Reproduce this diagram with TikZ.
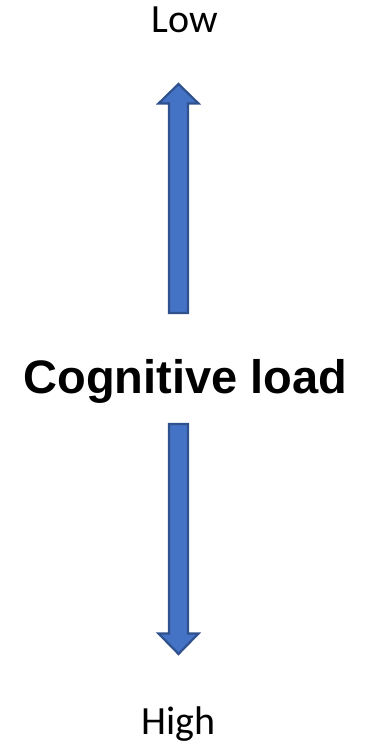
\documentclass[tikz,border=0pt]{standalone}
\usepackage{fontspec}
\setmainfont{Liberation Sans}
\newfontfamily\calib{Carlito}
\definecolor{arrowfill}{HTML}{4472C4}
\definecolor{arrowline}{HTML}{2F528F}
\begin{document}
\begin{tikzpicture}[x=1pt,y=1pt,
  blockarrow/.style={fill=arrowfill,draw=arrowline,line width=2.2pt,line join=miter},
  endlabel/.style={font=\calib\fontsize{40}{44}\selectfont,anchor=base,inner sep=0pt},
  titlelabel/.style={font=\bfseries\fontsize{47}{51}\selectfont,anchor=base,inner sep=0pt}]
\useasboundingbox (0,0) rectangle (366,748);
% labels
\node[endlabel] (low) at (184.5,715) {Low};
\node[endlabel] (high) at (178.5,13) {High};
\node[titlelabel] (title) at (185.5,354) {Cognitive load};
% upward block arrow
\draw[blockarrow] (169,435) -- (169,644.5) -- (158.5,644.5) -- (178.5,664)
  -- (198.5,644.5) -- (188,644.5) -- (188,435) -- cycle;
% downward block arrow
\draw[blockarrow] (169,324) -- (169,114.5) -- (158.5,114.5) -- (178.5,94)
  -- (198.5,114.5) -- (188,114.5) -- (188,324) -- cycle;
\end{tikzpicture}
\end{document}
